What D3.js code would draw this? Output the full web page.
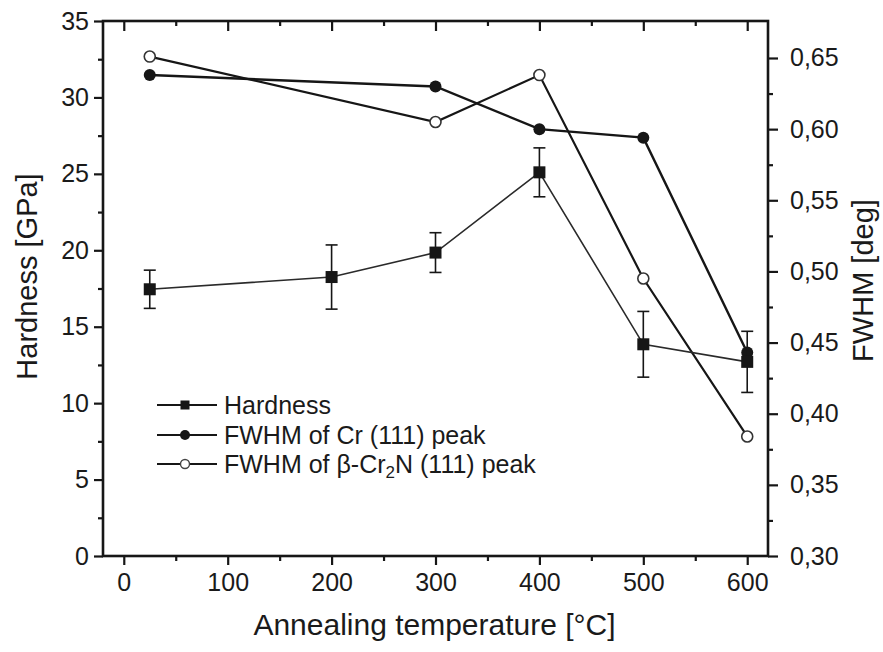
<!DOCTYPE html>
<html>
<head>
<meta charset="utf-8">
<script src="https://cdn.jsdelivr.net/npm/d3@7"></script>
<style>
  body { margin: 0; background: #fff; }
  text { font-family: "Liberation Sans", Arial, Helvetica, sans-serif; fill: #1a1a1a; }
</style>
</head>
<body>
<svg id="chart" width="883" height="652"></svg>
<script>
// Annealing temperatures (°C) and measured hardness with error bars (GPa)
const temperatures = [25, 200, 300, 400, 500, 600];
const hardness = [17.45, 18.25, 19.85, 25.1, 13.85, 12.7];
const hardnessErr = [1.25, 2.1, 1.3, 1.6, 2.15, 2.0];

// Peak widths (deg) from XRD
const crTemps = [25, 300, 400, 500, 600];
const fwhmCr = [0.638, 0.630, 0.600, 0.594, 0.443];
const cr2nTemps = [25, 300, 400, 500, 600];
const fwhmCr2N = [0.651, 0.605, 0.638, 0.495, 0.384];

// Axis ticks
const xTicks = [0, 100, 200, 300, 400, 500, 600];
const xMinor = [50, 150, 250, 350, 450, 550];
const hardnessTicks = [0, 5, 10, 15, 20, 25, 30, 35];
const hardnessMinor = [2.5, 7.5, 12.5, 17.5, 22.5, 27.5, 32.5];
const fwhmTicks = [0.30, 0.35, 0.40, 0.45, 0.50, 0.55, 0.60, 0.65];
const fwhmMinor = [0.325, 0.375, 0.425, 0.475, 0.525, 0.575, 0.625];

const svg = d3.select("#chart");
const plot = { left: 103, right: 768, top: 21, bottom: 556 };

const x = d3.scaleLinear().domain([-20, 620]).range([plot.left, plot.right]);
const yH = d3.scaleLinear().domain([0, 35]).range([plot.bottom, plot.top]);
const yF = d3.scaleLinear().domain([0.30, 0.676]).range([plot.bottom, plot.top]);

const ink = "#161616";
const tickFont = "25px";

// Frame and axes
function styleAxis(g, font) {
  g.select(".domain").remove();
  g.selectAll(".tick line").attr("stroke", ink).attr("stroke-width", 2.2);
  g.selectAll(".tick text").style("font-size", font);
}

// bottom axis (major + minor)
svg.append("g").attr("transform", `translate(0,${plot.bottom})`)
  .call(d3.axisBottom(x).tickValues(xTicks).tickSize(9).tickPadding(8).tickFormat(d3.format("d")))
  .call(g => styleAxis(g, tickFont));
svg.append("g").attr("transform", `translate(0,${plot.bottom})`)
  .call(d3.axisBottom(x).tickValues(xMinor).tickSize(5).tickFormat(""))
  .call(g => styleAxis(g, tickFont));
// top axis: inward ticks only
svg.append("g").attr("transform", `translate(0,${plot.top})`)
  .call(d3.axisBottom(x).tickValues(xTicks).tickSize(10).tickFormat(""))
  .call(g => styleAxis(g, tickFont));
svg.append("g").attr("transform", `translate(0,${plot.top})`)
  .call(d3.axisBottom(x).tickValues(xMinor).tickSize(5).tickFormat(""))
  .call(g => styleAxis(g, tickFont));

// left axis: hardness
svg.append("g").attr("transform", `translate(${plot.left},0)`)
  .call(d3.axisLeft(yH).tickValues(hardnessTicks).tickSize(9).tickPadding(5).tickFormat(d3.format("d")))
  .call(g => styleAxis(g, tickFont));
svg.append("g").attr("transform", `translate(${plot.left},0)`)
  .call(d3.axisLeft(yH).tickValues(hardnessMinor).tickSize(5).tickFormat(""))
  .call(g => styleAxis(g, tickFont));

// right axis: FWHM, comma decimal
const commaFmt = d => d3.format(".2f")(d).replace(".", ",");
svg.append("g").attr("transform", `translate(${plot.right},0)`)
  .call(d3.axisRight(yF).tickValues(fwhmTicks).tickSize(10).tickPadding(12).tickFormat(commaFmt))
  .call(g => styleAxis(g, tickFont));
svg.append("g").attr("transform", `translate(${plot.right},0)`)
  .call(d3.axisRight(yF).tickValues(fwhmMinor).tickSize(5).tickFormat(""))
  .call(g => styleAxis(g, tickFont));

svg.append("rect")
  .attr("x", plot.left).attr("y", plot.top)
  .attr("width", plot.right - plot.left).attr("height", plot.bottom - plot.top)
  .attr("fill", "none").attr("stroke", ink).attr("stroke-width", 2.6);

// Axis titles
svg.append("text").attr("x", (plot.left + plot.right) / 2 - 1).attr("y", 635)
  .attr("text-anchor", "middle").style("font-size", "30px")
  .text("Annealing temperature [°C]");
svg.append("text").attr("transform", `translate(37,${(plot.top + plot.bottom) / 2 - 12}) rotate(-90)`)
  .attr("text-anchor", "middle").style("font-size", "29px")
  .text("Hardness [GPa]");
svg.append("text").attr("transform", `translate(873,${(plot.top + plot.bottom) / 2 - 8}) rotate(-90)`)
  .attr("text-anchor", "middle").style("font-size", "29px")
  .text("FWHM [deg]");

// Series
const crPts = crTemps.map((t, i) => ({ t, v: fwhmCr[i] }));
const cr2nPts = cr2nTemps.map((t, i) => ({ t, v: fwhmCr2N[i] }));
const hPts = temperatures.map((t, i) => ({ t, v: hardness[i], e: hardnessErr[i] }));

const lineF = d3.line().x(d => x(d.t)).y(d => yF(d.v));
const lineH = d3.line().x(d => x(d.t)).y(d => yH(d.v));

svg.append("path").datum(crPts).attr("d", lineF)
  .attr("fill", "none").attr("stroke", ink).attr("stroke-width", 2.4);
svg.append("path").datum(cr2nPts).attr("d", lineF)
  .attr("fill", "none").attr("stroke", ink).attr("stroke-width", 2.2);
svg.append("path").datum(hPts).attr("d", lineH)
  .attr("fill", "none").attr("stroke", "#2a2a2a").attr("stroke-width", 1.6);

svg.append("g").selectAll("circle").data(crPts).join("circle")
  .attr("cx", d => x(d.t)).attr("cy", d => yF(d.v)).attr("r", 6)
  .attr("fill", ink);
svg.append("g").selectAll("circle").data(cr2nPts).join("circle")
  .attr("cx", d => x(d.t)).attr("cy", d => yF(d.v)).attr("r", 5.5)
  .attr("fill", "#fff").attr("stroke", "#333").attr("stroke-width", 1.6);

// Hardness error bars and markers
const capW = 6;
const eb = svg.append("g").attr("stroke", ink).attr("stroke-width", 1.6);
eb.selectAll("line.v").data(hPts).join("line").attr("class", "v")
  .attr("x1", d => x(d.t)).attr("x2", d => x(d.t))
  .attr("y1", d => yH(d.v + d.e)).attr("y2", d => yH(d.v - d.e));
eb.selectAll("line.t").data(hPts).join("line").attr("class", "t")
  .attr("x1", d => x(d.t) - capW).attr("x2", d => x(d.t) + capW)
  .attr("y1", d => yH(d.v + d.e)).attr("y2", d => yH(d.v + d.e));
eb.selectAll("line.b").data(hPts).join("line").attr("class", "b")
  .attr("x1", d => x(d.t) - capW).attr("x2", d => x(d.t) + capW)
  .attr("y1", d => yH(d.v - d.e)).attr("y2", d => yH(d.v - d.e));
const sq = 12;
svg.append("g").selectAll("rect").data(hPts).join("rect")
  .attr("x", d => x(d.t) - sq / 2).attr("y", d => yH(d.v) - sq / 2)
  .attr("width", sq).attr("height", sq).attr("fill", ink);

// Legend
const legend = svg.append("g").attr("transform", "translate(157,0)");
const rows = [
  { y: 405, kind: "square" },
  { y: 435, kind: "dot" },
  { y: 464, kind: "ring" }
];
rows.forEach(r => {
  legend.append("line").attr("x1", 0).attr("x2", 60).attr("y1", r.y).attr("y2", r.y)
    .attr("stroke", ink).attr("stroke-width", 2);
  if (r.kind === "square") {
    legend.append("rect").attr("x", 28 - 4.5).attr("y", r.y - 4.5).attr("width", 9).attr("height", 9).attr("fill", ink);
  } else if (r.kind === "dot") {
    legend.append("circle").attr("cx", 28).attr("cy", r.y).attr("r", 5).attr("fill", ink);
  } else {
    legend.append("circle").attr("cx", 28).attr("cy", r.y).attr("r", 4.5)
      .attr("fill", "#fff").attr("stroke", "#444").attr("stroke-width", 1.4);
  }
});
const lgFont = "25px";
legend.append("text").attr("x", 67).attr("y", 405).attr("dy", "0.35em").style("font-size", lgFont).text("Hardness");
legend.append("text").attr("x", 67).attr("y", 435).attr("dy", "0.35em").style("font-size", lgFont).text("FWHM of Cr (111) peak");
const t3 = legend.append("text").attr("x", 67).attr("y", 464).attr("dy", "0.35em").style("font-size", lgFont);
t3.append("tspan").text("FWHM of β-Cr");
t3.append("tspan").attr("dy", "0.3em").style("font-size", "17px").text("2");
t3.append("tspan").attr("dy", "-0.2em").text("N (111) peak");
</script>
</body>
</html>
